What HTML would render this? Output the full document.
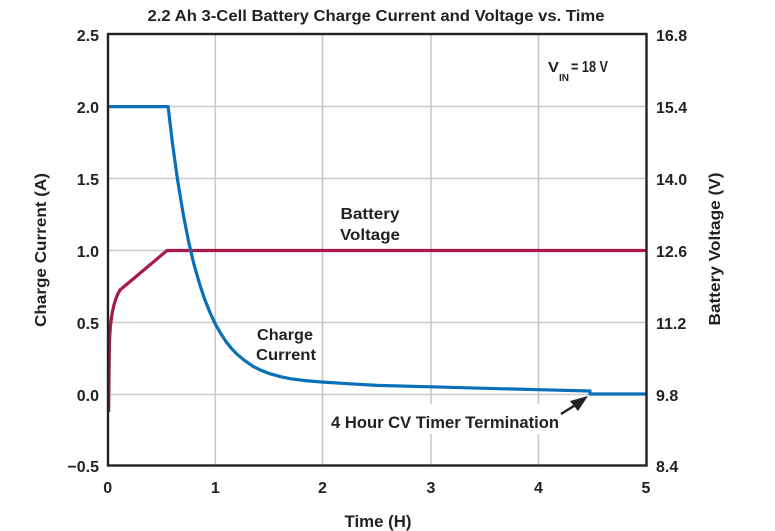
<!DOCTYPE html>
<html>
<head>
<meta charset="utf-8">
<style>
html,body{margin:0;padding:0;background:#fff;}
svg{display:block;}
text{font-family:"Liberation Sans",Arial,sans-serif;font-weight:bold;fill:#222;}
</style>
</head>
<body>
<svg width="775" height="531" viewBox="0 0 775 531" xmlns="http://www.w3.org/2000/svg">
<rect width="775" height="531" fill="#fff"/>
<!-- title -->
<text x="376" y="21" font-size="15.5" text-anchor="middle" textLength="457" lengthAdjust="spacingAndGlyphs">2.2 Ah 3-Cell Battery Charge Current and Voltage vs. Time</text>

<!-- grid -->
<g stroke="#c9c9c9" stroke-width="1.6" fill="none">
<line x1="215.3" y1="34" x2="215.3" y2="465"/>
<line x1="322.5" y1="34" x2="322.5" y2="465"/>
<line x1="431" y1="34" x2="431" y2="465"/>
<line x1="538.5" y1="34" x2="538.5" y2="465"/>
<line x1="108" y1="106.5" x2="646" y2="106.5"/>
<line x1="108" y1="178.5" x2="646" y2="178.5"/>
<line x1="108" y1="250.5" x2="646" y2="250.5"/>
<line x1="108" y1="322.5" x2="646" y2="322.5"/>
<line x1="108" y1="394.5" x2="646" y2="394.5"/>
</g>

<!-- label backgrounds -->
<rect x="326" y="404" width="238" height="30" fill="#fff"/>
<rect x="252" y="324" width="66" height="40" fill="#fff"/>

<!-- red voltage -->
<path d="M108.6,412 L109.4,345 C110,320 113,301 120,290 L167,250.5 L646,250.5" fill="none" stroke="#a8194a" stroke-width="3.2" stroke-linejoin="round"/>

<!-- blue current -->
<path d="M108,106.6 L168.1,106.6 L172.4,142.8 L177.8,181.5 L183.2,214 L188.5,241.1 L193.9,264.1 L199.3,283 L204.7,299.4 L210,312.5 L215.5,324.4 L220.9,333.8 L226.3,342 L231.7,348.7 L237.1,354.3 L245,360.8 L253.2,366.4 L261,370.3 L269.4,373.6 L280,376.6 L291,378.8 L305,380.6 L323.3,382.1 L350,383.8 L377.2,385.4 L431.1,386.8 L485,388.3 L538.9,389.7 L590,391 L590,394 L646,394" fill="none" stroke="#0a6fb9" stroke-width="3.2" stroke-linejoin="round"/>

<!-- frame -->
<rect x="108" y="34" width="538.5" height="431.5" fill="none" stroke="#222" stroke-width="2.4"/>

<!-- left ticks -->
<g font-size="16" text-anchor="end">
<text x="99" y="41">2.5</text>
<text x="99" y="113">2.0</text>
<text x="99" y="185">1.5</text>
<text x="99" y="257">1.0</text>
<text x="99" y="329">0.5</text>
<text x="99" y="401">0.0</text>
<text x="99" y="472">−0.5</text>
</g>
<!-- right ticks -->
<g font-size="16" text-anchor="start">
<text x="656" y="41">16.8</text>
<text x="656" y="113">15.4</text>
<text x="656" y="185">14.0</text>
<text x="656" y="257">12.6</text>
<text x="656" y="329">11.2</text>
<text x="656" y="401">9.8</text>
<text x="656" y="472">8.4</text>
</g>
<!-- x ticks -->
<g font-size="16" text-anchor="middle">
<text x="107.7" y="493">0</text>
<text x="215.3" y="493">1</text>
<text x="322.5" y="493">2</text>
<text x="431" y="493">3</text>
<text x="538.5" y="493">4</text>
<text x="646" y="493">5</text>
</g>

<!-- axis titles -->
<text x="378" y="527" font-size="16.5" text-anchor="middle" textLength="67" lengthAdjust="spacingAndGlyphs">Time (H)</text>
<text transform="translate(46,250) rotate(-90)" font-size="16" text-anchor="middle" textLength="154" lengthAdjust="spacingAndGlyphs">Charge Current (A)</text>
<text transform="translate(720,249) rotate(-90)" font-size="16" text-anchor="middle" textLength="153" lengthAdjust="spacingAndGlyphs">Battery Voltage (V)</text>

<!-- annotations -->
<text x="548" y="72" font-size="15" textLength="11" lengthAdjust="spacingAndGlyphs">V</text>
<text x="559" y="81" font-size="10.5" textLength="10" lengthAdjust="spacingAndGlyphs">IN</text>
<text x="571" y="72" font-size="15.5" textLength="37" lengthAdjust="spacingAndGlyphs">= 18 V</text>

<text x="370" y="219" font-size="15.5" text-anchor="middle" textLength="59" lengthAdjust="spacingAndGlyphs">Battery</text>
<text x="370" y="240" font-size="15.5" text-anchor="middle" textLength="60" lengthAdjust="spacingAndGlyphs">Voltage</text>

<text x="285" y="340" font-size="15.5" text-anchor="middle" textLength="56" lengthAdjust="spacingAndGlyphs">Charge</text>
<text x="286" y="360" font-size="15.5" text-anchor="middle" textLength="60" lengthAdjust="spacingAndGlyphs">Current</text>

<text x="331" y="428" font-size="16.5" textLength="228" lengthAdjust="spacingAndGlyphs">4 Hour CV Timer Termination</text>

<!-- arrow -->
<line x1="561" y1="414" x2="577" y2="404" stroke="#222" stroke-width="2.5"/>
<polygon points="588,396 570,401 578,411" fill="#222"/>
</svg>
</body>
</html>
